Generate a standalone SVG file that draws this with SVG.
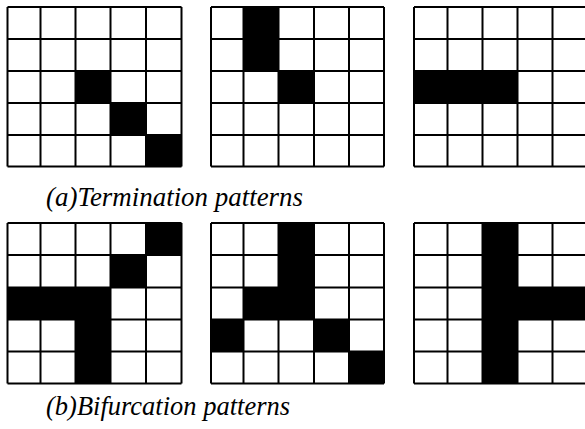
<svg xmlns="http://www.w3.org/2000/svg" width="585" height="429" viewBox="0 0 585 429">
<style>
.grid{fill:none;stroke:#000;stroke-width:2}
.on{fill:#000}
.cap{font-family:"Liberation Serif","DejaVu Serif",serif;font-style:italic;font-size:26.5px;fill:#000}
</style>
<rect width="585" height="429" fill="#fff"/>
<g id="g1">
<rect class="on" x="75.5" y="71" width="35" height="32"/>
<rect class="on" x="110.5" y="103" width="35.5" height="32"/>
<rect class="on" x="146" y="135" width="35.5" height="31.5"/>
<path class="grid" d="M7.5 7V166.5M40.5 7V166.5M75.5 7V166.5M110.5 7V166.5M146 7V166.5M181.5 7V166.5M7.5 7H181.5M7.5 39H181.5M7.5 71H181.5M7.5 103H181.5M7.5 135H181.5M7.5 166.5H181.5"/>
</g>
<g id="g2">
<rect class="on" x="243.5" y="7" width="35" height="64"/>
<rect class="on" x="278.5" y="71" width="35.5" height="32"/>
<path class="grid" d="M211 7V166.5M243.5 7V166.5M278.5 7V166.5M314 7V166.5M349 7V166.5M384 7V166.5M211 7H384M211 39H384M211 71H384M211 103H384M211 135H384M211 166.5H384"/>
</g>
<g id="g3">
<rect class="on" x="414" y="71" width="103.5" height="32"/>
<path class="grid" d="M414 7V166.5M447.5 7V166.5M482.5 7V166.5M517.5 7V166.5M552.5 7V166.5M587.5 7V166.5M414 7H587.5M414 39H587.5M414 71H587.5M414 103H587.5M414 135H587.5M414 166.5H587.5"/>
</g>
<text id="capA" class="cap" x="46" y="206" textLength="257" lengthAdjust="spacingAndGlyphs">(a)Termination patterns</text>
<g id="g4">
<rect class="on" x="146" y="223" width="35.5" height="32"/>
<rect class="on" x="110.5" y="255" width="35.5" height="32.5"/>
<rect class="on" x="7.5" y="287.5" width="103" height="32"/>
<rect class="on" x="75.5" y="319.5" width="35" height="64"/>
<path class="grid" d="M7.5 223V383.5M40.5 223V383.5M75.5 223V383.5M110.5 223V383.5M146 223V383.5M181.5 223V383.5M7.5 223H181.5M7.5 255H181.5M7.5 287.5H181.5M7.5 319.5H181.5M7.5 351.5H181.5M7.5 383.5H181.5"/>
</g>
<g id="g5">
<rect class="on" x="278.5" y="223" width="35.5" height="96.5"/>
<rect class="on" x="243.5" y="287.5" width="35" height="32"/>
<rect class="on" x="211" y="319.5" width="32.5" height="32"/>
<rect class="on" x="314" y="319.5" width="35" height="32"/>
<rect class="on" x="349" y="351.5" width="35" height="32"/>
<path class="grid" d="M211 223V383.5M243.5 223V383.5M278.5 223V383.5M314 223V383.5M349 223V383.5M384 223V383.5M211 223H384M211 255H384M211 287.5H384M211 319.5H384M211 351.5H384M211 383.5H384"/>
</g>
<g id="g6">
<rect class="on" x="482.5" y="223" width="35" height="160.5"/>
<rect class="on" x="517.5" y="287.5" width="70" height="32"/>
<path class="grid" d="M414 223V383.5M447.5 223V383.5M482.5 223V383.5M517.5 223V383.5M552.5 223V383.5M587.5 223V383.5M414 223H587.5M414 255H587.5M414 287.5H587.5M414 319.5H587.5M414 351.5H587.5M414 383.5H587.5"/>
</g>
<text id="capB" class="cap" x="46" y="415" textLength="244" lengthAdjust="spacingAndGlyphs">(b)Bifurcation patterns</text>
</svg>
